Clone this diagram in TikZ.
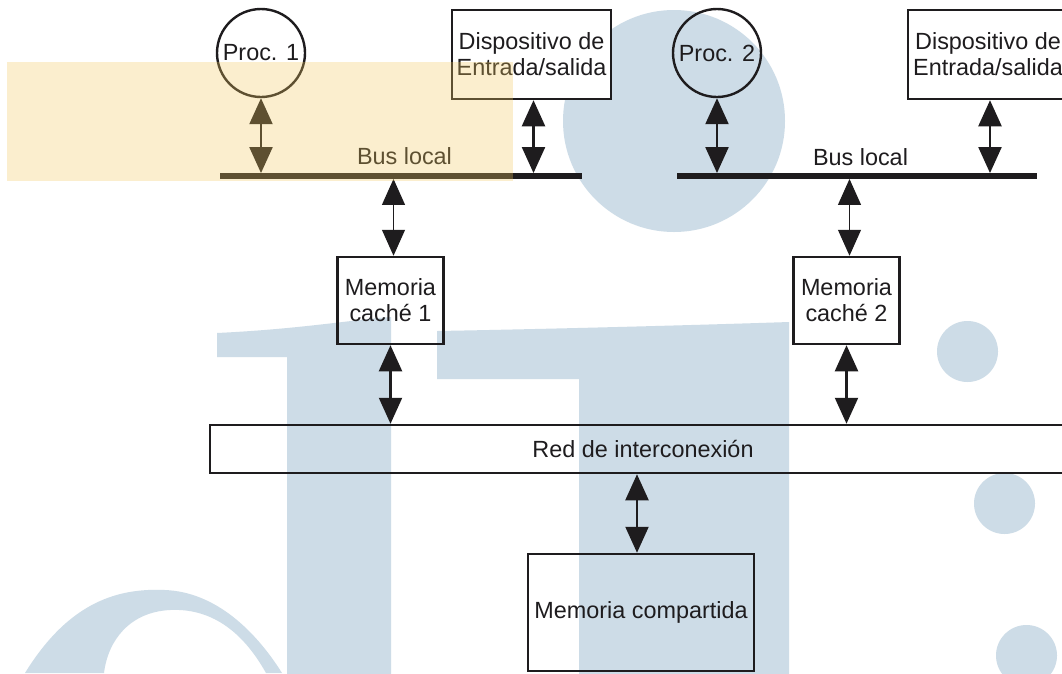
\documentclass[tikz,border=0pt]{standalone}
\usepackage{fontspec}
\setmainfont{Liberation Sans}
\usetikzlibrary{arrows.meta}
\definecolor{ink}{RGB}{30,28,30}
\definecolor{wmblue}{RGB}{205,220,231}
\definecolor{hilite}{RGB}{242,201,95}
\begin{document}
\begin{tikzpicture}[x=1pt,y=-1pt,
  every node/.style={font=\fontsize{23.4}{26}\selectfont, text=ink},
  proc/.style={circle, draw=ink, line width=2.4pt, minimum size=88pt, inner sep=0pt},
  box/.style={rectangle, draw=ink, line width=2.5pt, inner sep=0pt, align=center},
  bus/.style={rectangle, fill=ink, inner sep=0pt, minimum height=5.5pt},
  link/.style={draw=ink, line width=2.2pt, {Triangle[length=26pt,width=23pt]}-{Triangle[length=26pt,width=23pt]}},
  thinlink/.style={link, line width=1.2pt},
]
\useasboundingbox (0,0) rectangle (1062,673);
\clip (0,0) rectangle (1062,673);
\fill[white] (0,0) rectangle (1062,673);

% background marks
\begin{scope}[wmblue]
  \fill (674,121) circle (111);
  \fill (217,333) .. controls (300,329) and (350,320) .. (391,317)
        -- (391,680) -- (287,680) -- (287,357) -- (217,357) -- cycle;
  \fill (437,331) .. controls (550,329) and (700,325) .. (789,322)
        -- (789,680) -- (579,680) -- (579,379) -- (437,379) -- cycle;
  \fill (25,673) .. controls (70,600) and (120,588) .. (165,590)
        .. controls (215,592) and (255,630) .. (282,673)
        -- (266,673) .. controls (242,630) and (210,608) .. (170,610)
        .. controls (130,612) and (108,640) .. (104,673) -- cycle;
  \fill (967.5,351.5) circle (30.5);
  \fill (1004.5,503.5) circle (30.5);
  \fill (1026.5,655.5) circle (30.5);
\end{scope}

% processors, devices and local buses
\node[proc] (proc1) at (261,53) {Proc. 1};
\node[proc] (proc2) at (717,53) {Proc. 2};
\node[box, fill=white, minimum width=159pt, minimum height=89pt] (io1) at (531.5,54.5)
  {Dispositivo de\\Entrada/salida};
\node[box, fill=white, minimum width=160pt, minimum height=89pt] (io2) at (988,54.5)
  {Dispositivo de\\Entrada/salida};
\node[bus, minimum width=362pt] (bus1) at (401,176) {};
\node[bus, minimum width=360pt] (bus2) at (857,176) {};
\node (lbl1) at (404.5,156) {Bus local};
\node (lbl2) at (860.5,157) {Bus local};

% caches, network and shared memory
\node[box, minimum width=106pt, minimum height=87pt] (cache1) at (390.5,300.5) {Memoria\\cach\'e 1};
\node[box, minimum width=106pt, minimum height=87pt] (cache2) at (846.5,300.5) {Memoria\\cach\'e 2};
\node[box, minimum width=866pt, minimum height=48pt] (red) at (643,449) {Red de interconexi\'on};
\node[box, minimum width=226pt, minimum height=117pt] (mem) at (641,612.5) {Memoria compartida};

% connections
\draw[link] (proc1.south) -- (proc1.south |- bus1.north);
\draw[link] ([xshift=2pt]io1.south) -- ([xshift=2pt]io1.south |- bus1.north);
\draw[link] (proc2.south) -- (proc2.south |- bus2.north);
\draw[link] ([xshift=2pt]io2.south) -- ([xshift=2pt]io2.south |- bus2.north);
\draw[thinlink] ([xshift=3pt]cache1.north |- bus1.south) -- ([xshift=3pt]cache1.north);
\draw[thinlink] ([xshift=3pt]cache2.north |- bus2.south) -- ([xshift=3pt]cache2.north);
\draw[link] (cache1.south) -- (cache1.south |- red.north);
\draw[link] (cache2.south) -- (cache2.south |- red.north);
\draw[link] ([xshift=-4pt]mem.north |- red.south) -- ([xshift=-4pt]mem.north);

% highlight band
\fill[hilite, opacity=0.3] (7,62) rectangle (513,181);
\end{tikzpicture}
\end{document}
